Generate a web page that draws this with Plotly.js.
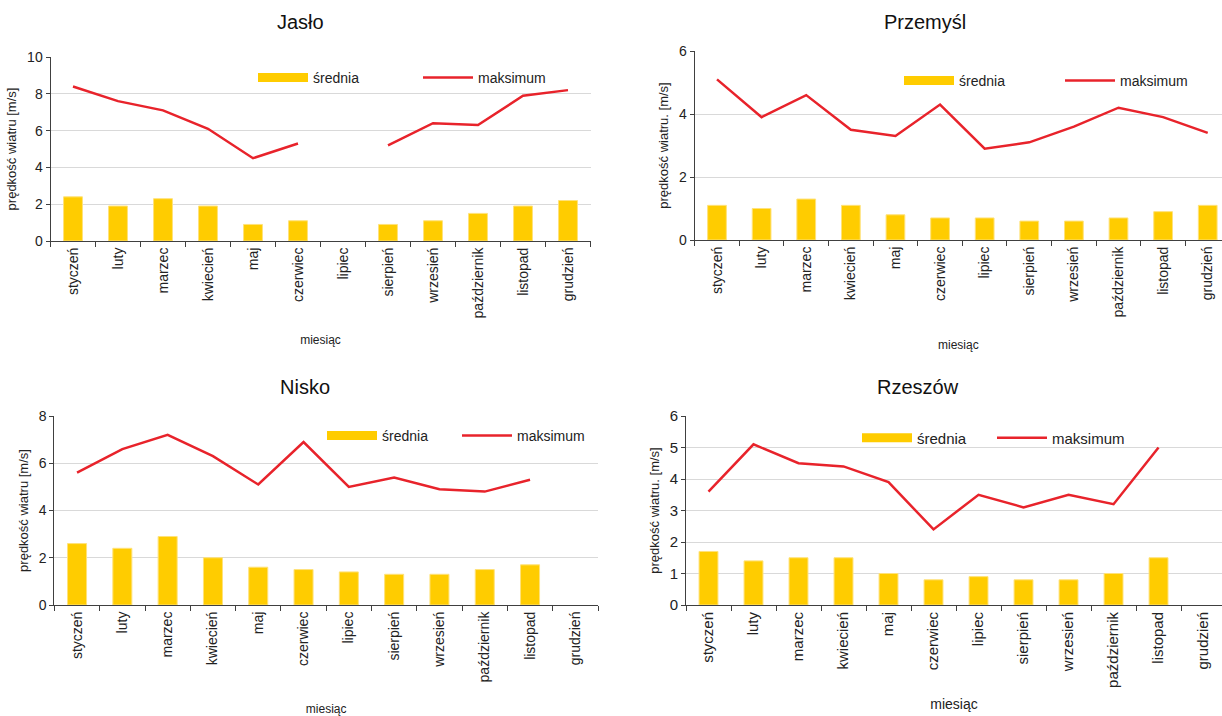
<!DOCTYPE html>
<html>
<head>
<meta charset="utf-8">
<script src="https://cdn.plot.ly/plotly-3.0.1.min.js"></script>
<style>html,body{margin:0;padding:0;background:#fff}#chart{width:1222px;height:716px}</style>
</head>
<body>
<div id="chart"></div>
<script>
const months = ["styczeń","luty","marzec","kwiecień","maj","czerwiec","lipiec","sierpień","wrzesień","październik","listopad","grudzień"];

const jasloMean = [2.4, 1.9, 2.3, 1.9, 0.9, 1.1, null, 0.9, 1.1, 1.5, 1.9, 2.2];
const jasloMax  = [8.4, 7.6, 7.1, 6.1, 4.5, 5.3, null, 5.2, 6.4, 6.3, 7.9, 8.2];

const przemyslMean = [1.1, 1.0, 1.3, 1.1, 0.8, 0.7, 0.7, 0.6, 0.6, 0.7, 0.9, 1.1];
const przemyslMax  = [5.1, 3.9, 4.6, 3.5, 3.3, 4.3, 2.9, 3.1, 3.6, 4.2, 3.9, 3.4];

const niskoMean = [2.6, 2.4, 2.9, 2.0, 1.6, 1.5, 1.4, 1.3, 1.3, 1.5, 1.7, null];
const niskoMax  = [5.6, 6.6, 7.2, 6.3, 5.1, 6.9, 5.0, 5.4, 4.9, 4.8, 5.3, null];

const rzeszowMean = [1.7, 1.4, 1.5, 1.5, 1.0, 0.8, 0.9, 0.8, 0.8, 1.0, 1.5, null];
const rzeszowMax  = [3.6, 5.1, 4.5, 4.4, 3.9, 2.4, 3.5, 3.1, 3.5, 3.2, 5.0, null];

const stations = ["Jasło", "Przemyśl", "Nisko", "Rzeszów"];
const meanName = "średnia";
const maxName = "maksimum";

const FONT = "Liberation Sans, Arial, sans-serif";
const BAR = "#FFCC00";
const LINE = "#E8232B";
const W = 1222, H = 716;
const px = v => v / W;
const py = v => (H - v) / H;

const sets = [
  {mean: jasloMean, max: jasloMax, xa: "x", ya: "y", lg: "legend"},
  {mean: przemyslMean, max: przemyslMax, xa: "x2", ya: "y2", lg: "legend2"},
  {mean: niskoMean, max: niskoMax, xa: "x3", ya: "y3", lg: "legend3"},
  {mean: rzeszowMean, max: rzeszowMax, xa: "x4", ya: "y4", lg: "legend4"}
];

const data = [];
sets.forEach(s => {
  data.push({type: "bar", x: months, y: s.mean, name: meanName, xaxis: s.xa, yaxis: s.ya, showlegend: false,
    marker: {color: BAR, line: {color: "#FFE27A", width: 1}}, hoverinfo: "x+y"});
  // legend entry for the bars, drawn as a wide swatch like the original
  data.push({type: "scatter", mode: "lines", x: [null], y: [null], name: meanName, xaxis: s.xa, yaxis: s.ya, legend: s.lg,
    line: {color: BAR, width: 9}, showlegend: true});
  data.push({type: "scatter", mode: "lines", x: months, y: s.max, name: maxName, xaxis: s.xa, yaxis: s.ya, legend: s.lg,
    line: {color: LINE, width: 2.5}, connectgaps: false});
});

function xax(domain, range, fs, title, standoff, anchor) {
  return {domain: domain, range: range, anchor: anchor, type: "category", tickangle: -90, ticks: "outside", tickson: "boundaries",
    ticklen: 5, tickcolor: "#404040", showline: true, linecolor: "#404040", linewidth: 1, showgrid: false,
    tickfont: {family: FONT, size: fs, color: "#222"}, fixedrange: true,
    title: {text: title.text, font: {family: FONT, size: title.size, color: "#222"}, standoff: standoff}};
}
function yax(domain, range, dtick, fs, title, anchor) {
  return {domain: domain, range: range, dtick: dtick, anchor: anchor, ticks: "outside", ticklen: 4, tickcolor: "#404040",
    showline: true, linecolor: "#404040", linewidth: 1, gridcolor: "#D9D9D9", gridwidth: 1, zeroline: false,
    tickfont: {family: FONT, size: fs, color: "#222"},
    title: {text: title, font: {family: FONT, size: 13, color: "#222"}, standoff: 7}};
}
function legend(xp, yp, fs, ew) {
  return {orientation: "h", x: px(xp), y: py(yp), xanchor: "left", yanchor: "middle", bgcolor: "rgba(0,0,0,0)",
    font: {family: FONT, size: fs, color: "#222"}, itemwidth: 50, entrywidth: ew, entrywidthmode: "pixels", traceorder: "normal"};
}
function ttl(text, x, y) {
  return {text: text, x: px(x), y: py(y), xref: "paper", yref: "paper", xanchor: "center", yanchor: "middle",
    showarrow: false, font: {family: FONT, size: 20, color: "#111"}};
}

const layout = {
  width: W, height: H, margin: {l: 0, r: 0, t: 0, b: 0}, paper_bgcolor: "#fff", plot_bgcolor: "#fff",
  showlegend: true, barmode: "group", bargap: 0.58, font: {family: FONT},
  xaxis: xax([px(50.5), px(590.5)], [-0.5, 11.5], 14, {text: "miesiąc", size: 12}, 18, "y"),
  yaxis: yax([py(241), py(57)], [0, 10], 2, 14, "prędkość wiatru [m/s]", "x"),
  xaxis2: xax([px(694.7), 1], [-0.5, 11.32], 14, {text: "miesiąc", size: 12}, 24, "y2"),
  yaxis2: yax([py(240), py(51)], [0, 6], 2, 14, "prędkość wiatru. [m/s]", "x2"),
  xaxis3: xax([px(54.4), px(598)], [-0.5, 11.5], 14, {text: "miesiąc", size: 12}, 23, "y3"),
  yaxis3: yax([py(605), py(416)], [0, 8], 2, 14, "prędkość wiatru [m/s]", "x3"),
  xaxis4: xax([px(686), 1], [-0.5, 11.41], 15, {text: "miesiąc", size: 14}, 12, "y4"),
  yaxis4: yax([py(605), py(416)], [0, 6], 1, 15, "prędkość wiatru. [m/s]", "x4"),
  legend: legend(253, 78, 14, 100),
  legend2: legend(899, 81, 14, 96),
  legend3: legend(322, 436, 14, 70),
  legend4: legend(857, 438, 15, 70),
  annotations: [ttl(stations[0], 300, 22), ttl(stations[1], 925, 22), ttl(stations[2], 305, 387), ttl(stations[3], 918, 387)]
};

Plotly.newPlot("chart", data, layout, {staticPlot: true, displayModeBar: false});
</script>
</body>
</html>
